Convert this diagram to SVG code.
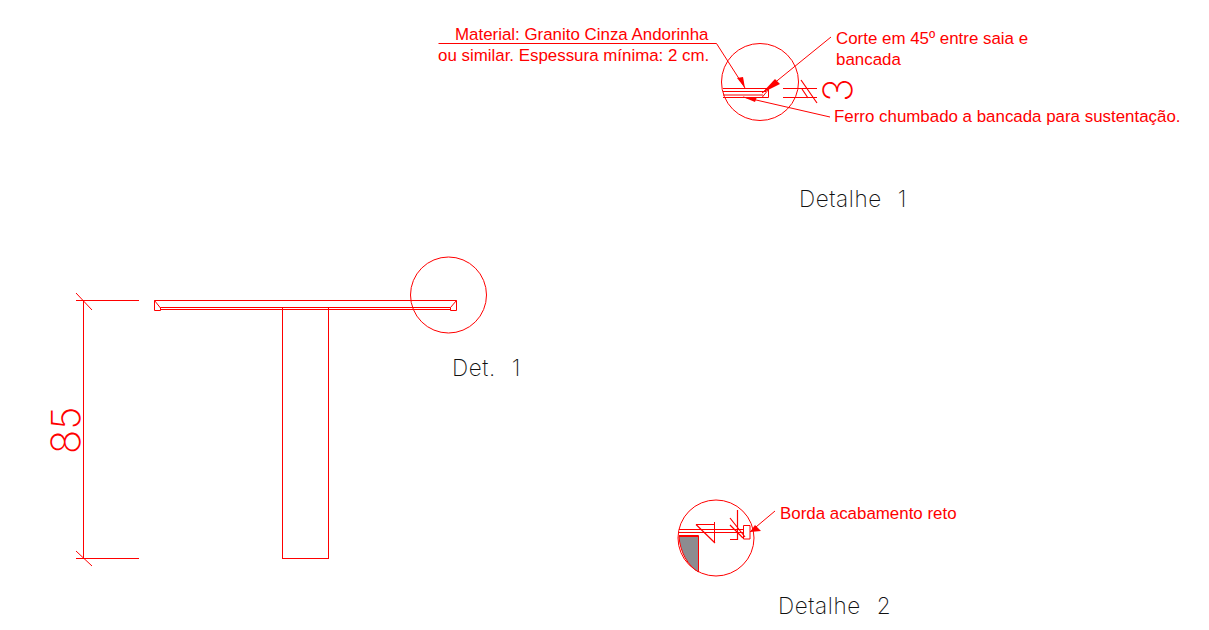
<svg xmlns="http://www.w3.org/2000/svg" width="1209" height="630" viewBox="0 0 1209 630">
<style>
.l{fill:none;stroke:#ff0000;stroke-width:1}
.h{fill:none;stroke:#ff0000;stroke-width:1.2}
.t{fill:#ff0000;font-family:"Liberation Sans",Arial,sans-serif;font-size:16.9px}
.d{fill:#111;font-family:"Inter","DejaVu Sans",sans-serif;font-weight:200;font-size:22.5px;letter-spacing:0.6px;word-spacing:9px}
.n{fill:#ff0000;font-family:"Inter","DejaVu Sans",sans-serif;font-weight:200}
.a{fill:#ff0000;stroke:none}
</style>
<rect width="1209" height="630" fill="#fff"/>
<g id="table">
<path class="l" d="M154.500 300.500H456.500V310.500H450.500V307.500H160.500V310.500H154.500ZM154.500 300.500L160.500 308M456.500 300.500L450.500 307.500M160.500 309.500H450.500"/>
<rect class="l" x="282.500" y="307.500" width="46" height="251"/>
</g>
<g id="dimension-85">
<path class="l" d="M76 300.500H139M76 558.500H139M83.500 300V558M76 293L92 310M76 551L92 566"/>
<text class="n" font-size="40" transform="translate(79.500 454) rotate(-90)">85</text>
</g>
<g id="det1-callout">
<circle class="l" cx="448.500" cy="295" r="38"/>
<text class="d" x="452" y="376">Det. 1</text>
</g>
<g id="detalhe1">
<circle class="l" cx="760" cy="82" r="38.500"/>
<path class="l" d="M723 88.500H768M723 91.500H766M723 95H763M723 97.500H768.500V89.500L762 97.500M783 88.500H817M783 97.500H817"/>
<path class="h" d="M801 80L817 103M802 89L808 98"/>
<text class="n" font-size="40" transform="translate(852 102) rotate(-90)">3</text>
<text class="d" x="799" y="207">Detalhe 1</text>
</g>
<g id="detalhe2">
<circle class="l" cx="716" cy="538" r="38"/>
<path d="M679 536.500H698.500V572C688 566 680 552 679 536.500Z" fill="#8c8c90" stroke="#ff0000"/>
<path class="l" d="M679 529.500H744M679 532.500H744M679 535.500H698.500V572M696 524.500H715M714.500 522V543M729 529.500H744M730 539.500H737M743.500 525.500H750V539H743.500Z"/>
<path class="h" d="M696 524.500L715 543M730 518L745 537M730 525L743 538M737.500 510V540"/>
<text class="d" x="778" y="614">Detalhe 2</text>
</g>
<g id="connectors">
<path class="l" d="M438.500 43.500H716.500L745 88"/>
<path class="a" d="M745 88L737 78L743 77Z"/>
<path class="l" d="M831 37L762 93"/>
<path class="a" d="M762 93L775 79L780 84Z"/>
<path class="l" d="M830 117L743 97"/>
<path class="a" d="M743 97L757 97L755 102Z"/>
<path class="l" d="M775 511L750 532"/>
<path class="a" d="M750 532L755 525L761 531Z"/>
</g>
<g id="labels">
<text class="t" x="455" y="40">Material: Granito Cinza Andorinha</text>
<text class="t" x="438" y="61">ou similar. Espessura mínima: 2 cm.</text>
<text class="t" x="836" y="44">Corte em 45º entre saia e</text>
<text class="t" x="836" y="65">bancada</text>
<text class="t" x="834" y="122">Ferro chumbado a bancada para sustentação.</text>
<text class="t" x="780" y="519">Borda acabamento reto</text>
</g>
</svg>
